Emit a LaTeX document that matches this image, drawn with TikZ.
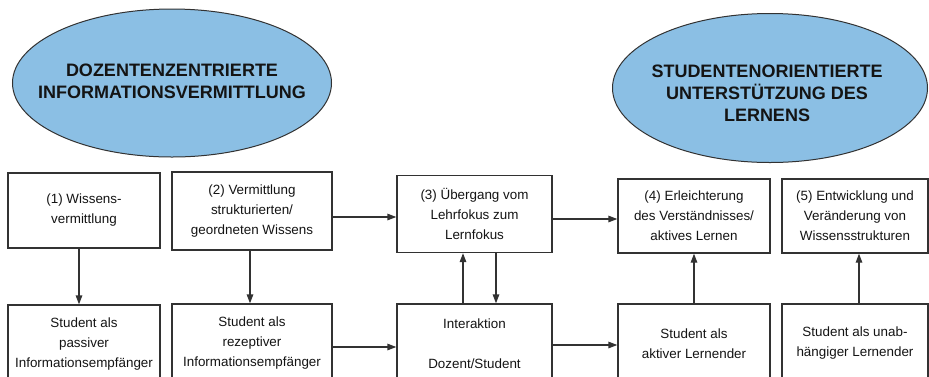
\documentclass[tikz,border=0pt]{standalone}
\usepackage{fontspec}
\setmainfont{Liberation Sans}
\usetikzlibrary{shapes.geometric,arrows.meta}
\definecolor{ellfill}{RGB}{139,191,228}
\definecolor{ink}{RGB}{20,20,20}
\definecolor{edge}{RGB}{50,50,50}
\begin{document}
\begin{tikzpicture}[x=1pt,y=-1pt,
  oval/.style={ellipse,draw=edge,line width=1pt,fill=ellfill,inner sep=0pt},
  ovaltext/.style={text=ink,align=center,font=\fontsize{18}{22}\selectfont\bfseries,inner sep=0pt},
  box/.style={draw=edge,line width=1.3pt,fill=white,text=ink,align=center,inner sep=0pt,
    font=\fontsize{13.4}{20}\selectfont},
  arr/.style={draw=edge,line width=1.3pt,-{Triangle[length=9pt,width=6.5pt]}}]
\clip (0,0) rectangle (929,376);
\fill[white] (0,0) rectangle (929,376);
% ellipses
\node[oval,minimum width=319pt,minimum height=148pt] (e1) at (172,83) {};
\node[ovaltext] (t1) at (172,81) {DOZENTENZENTRIERTE\\INFORMATIONSVERMITTLUNG};
\node[oval,minimum width=315pt,minimum height=149pt] (e2) at (770,88) {};
\node[ovaltext] (t2) at (767,93) {STUDENTENORIENTIERTE\\UNTERSTÜTZUNG DES\\LERNENS};
% top row
\node[box,minimum width=152pt,minimum height=75pt] (b1) at (84,210.5) {(1) Wissens-\\vermittlung};
\node[box,minimum width=160pt,minimum height=78pt] (b2) at (252,211) {(2) Vermittlung\\strukturierten/\\geordneten Wissens};
\node[box,minimum width=155pt,minimum height=77pt] (b3) at (474.5,214) {(3) Übergang vom\\Lehrfokus zum\\Lernfokus};
\node[box,minimum width=152pt,minimum height=74pt] (b4) at (694,216) {(4) Erleichterung\\des Verständnisses/\\aktives Lernen};
\node[box,minimum width=146pt,minimum height=74pt] (b5) at (855,216) {(5) Entwicklung und\\Veränderung von\\Wissensstrukturen};
% bottom row
\node[box,minimum width=152pt,minimum height=78pt] (c1) at (84,344) {Student als\\passiver\\Informationsempfänger};
\node[box,minimum width=160pt,minimum height=79pt] (c2) at (252,343.5) {Student als\\rezeptiver\\Informationsempfänger};
\node[box,minimum width=155pt,minimum height=79pt] (c3) at (474.5,343.5) {Interaktion\\[20pt]Dozent/Student};
\node[box,minimum width=152pt,minimum height=79pt] (c4) at (694,343.5) {Student als\\aktiver Lernender};
\node[box,minimum width=146pt,minimum height=79pt] (c5) at (855,343.5) {Student als unab-\\hängiger Lernender};
% vertical connectors
\draw[arr] ([xshift=-5pt]b1.south) -- ([xshift=-5pt]c1.north);
\draw[arr] ([xshift=-2pt]b2.south) -- ([xshift=-2pt]c2.north);
\draw[arr] ([xshift=-11.5pt]c3.north) -- ([xshift=-11.5pt]b3.south);
\draw[arr] ([xshift=21.5pt]b3.south) -- ([xshift=21.5pt]c3.north);
\draw[arr] (c4.north) -- (b4.south);
\draw[arr] ([xshift=4pt]c5.north) -- ([xshift=4pt]b5.south);
% horizontal connectors
\coordinate (p1) at ([yshift=-6pt]b2.east);
\draw[arr] (p1) -- (p1 -| b3.west);
\coordinate (p2) at ([yshift=-5pt]b3.east);
\draw[arr] (p2) -- (p2 -| b4.west);
\coordinate (p3) at ([yshift=-3.5pt]c2.east);
\draw[arr] (p3) -- (p3 -| c3.west);
\coordinate (p4) at ([yshift=-1.5pt]c3.east);
\draw[arr] (p4) -- (p4 -| c4.west);
\end{tikzpicture}
\end{document}
